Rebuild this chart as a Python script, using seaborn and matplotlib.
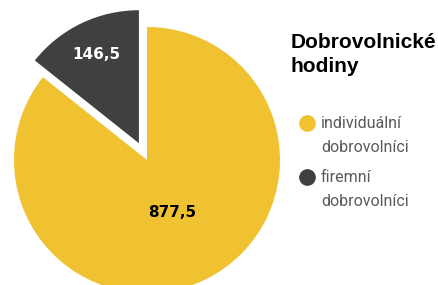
import numpy as np
import seaborn as sns
import matplotlib.pyplot as plt
from matplotlib.lines import Line2D

# data
categories = ["individuální\ndobrovolníci", "firemní\ndobrovolníci"]
hours = [877.5, 146.5]
value_labels = ["877,5", "146,5"]
title = "Dobrovolnické\nhodiny"

sns.set_theme(style="white")
plt.rcParams['font.family'] = ['Roboto', 'DejaVu Sans']
colors = sns.color_palette(["#F0C232", "#404040"])

fig = plt.figure(figsize=(4.39, 2.85), dpi=100)
W, H = 439, 285
# axes in pixel terms: pie center (147,160 from top), radius 133 px
r_px = 133
lim = 1.2
side = 2 * lim * r_px
ax = fig.add_axes([(147 - side / 2) / W, (H - 160 - side / 2) / H, side / W, side / H])

wedges, _ = ax.pie(hours, colors=colors, startangle=90, counterclock=False,
                   explode=[0, 0.14], radius=1,
                   wedgeprops=dict(linewidth=0))
ax.set_xlim(-lim, lim)
ax.set_ylim(-lim, lim)
ax.set_aspect("equal")
ax.axis("off")

# value labels placed along each wedge's mid angle
dists = [0.44, 0.74]
txt_colors = ["black", "white"]
for w, lab, d, c in zip(wedges, value_labels, dists, txt_colors):
    mid = np.deg2rad((w.theta1 + w.theta2) / 2)
    cx, cy = w.center
    ax.text(cx + d * np.cos(mid), cy + d * np.sin(mid), lab, ha="center", va="center",
            fontsize=11, fontweight="bold", color=c, family=["DejaVu Sans"])

# title
fig.text(291 / W, 1 - 48 / H, "Dobrovolnické", ha="left", va="baseline", fontsize=15,
         fontweight="bold", color="black", family=["Liberation Sans", "DejaVu Sans"])
fig.text(291 / W, 1 - 72 / H, "hodiny", ha="left", va="baseline", fontsize=15,
         fontweight="bold", color="black", family=["Liberation Sans", "DejaVu Sans"])

# legend: marker aligned with first line of each label
y0 = 123
for i, (lab, col) in enumerate(zip(categories, colors)):
    ym = y0 + i * 54
    fig.add_artist(Line2D([307 / W], [1 - ym / H], marker="o", markersize=11,
                          markerfacecolor=col, markeredgecolor=col, linestyle="none",
                          transform=fig.transFigure))
    for j, line in enumerate(lab.split("\n")):
        fig.text(321 / W, 1 - (ym + j * 25) / H, line, ha="left", va="center",
                 fontsize=11.5, color="#595959")

fig.savefig("out.png", dpi=100)
